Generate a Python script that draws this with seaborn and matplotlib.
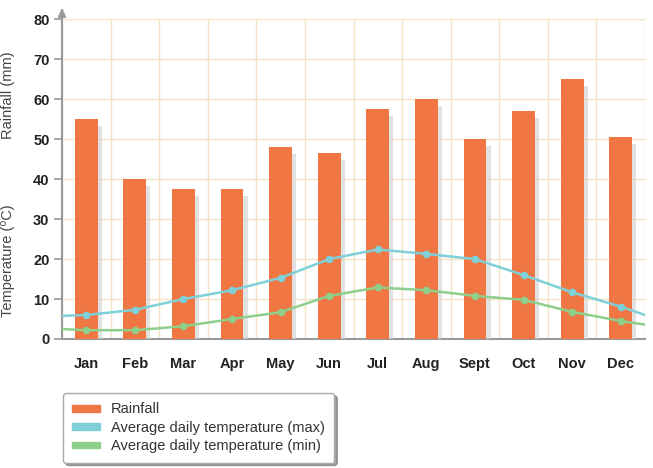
# rainfall and temperature by month, bars + two temperature lines

import numpy as np
import pandas as pd
import matplotlib
matplotlib.use("Agg")
import matplotlib.pyplot as plt
import matplotlib.patheffects as pe
from matplotlib.patches import Patch
import seaborn as sns

# data
months = ["Jan", "Feb", "Mar", "Apr", "May", "Jun", "Jul", "Aug", "Sept", "Oct", "Nov", "Dec"]
rainfall = [55, 40, 37.5, 37.5, 48, 46.5, 57.5, 60, 50, 57, 65, 50.5]
temp_max = [6, 7.3, 10, 12.2, 15.3, 20, 22.4, 21.3, 20, 16, 11.7, 8.1]
temp_min = [2.2, 2.2, 3.2, 5, 6.7, 10.8, 12.9, 12.2, 10.8, 9.8, 6.8, 4.5]
# where the lines meet the left and right edges of the plot
max_edges = [5.8, 6.0]
min_edges = [2.5, 3.6]

bar_color = "#f07643"
max_color = "#7fd0d8"
min_color = "#8ecf8c"
grid_color = "#f4e4c4"
axis_color = "#9a9a9a"

sns.set_style("white")
plt.rcParams["font.family"] = ["Liberation Sans", "DejaVu Sans"]

df = pd.DataFrame({"month": months, "rainfall": rainfall})

fig = plt.figure(figsize=(6.53, 4.68), dpi=100)
ax = fig.add_axes([62 / 653, 1 - 339 / 468, (645 - 62) / 653, (339 - 19.3) / 468])

sns.barplot(data=df, x="month", y="rainfall", order=months, color=bar_color,
            saturation=1, width=0.47, ax=ax, zorder=3)
for bar in ax.patches:
    bar.set_edgecolor("none")
    bar.set_path_effects([pe.SimplePatchShadow(offset=(3, -5), shadow_rgbFace="#d0d0d0", alpha=0.6),
                          pe.Normal()])

pos = np.arange(len(months))
line_x = np.concatenate([[-0.5], pos, [len(months) - 0.5]])
line_max = [max_edges[0]] + temp_max + [max_edges[1]]
line_min = [min_edges[0]] + temp_min + [min_edges[1]]
sns.lineplot(x=line_x, y=line_max, color=max_color, linewidth=1.8, ax=ax, zorder=5)
sns.lineplot(x=line_x, y=line_min, color=min_color, linewidth=1.8, ax=ax, zorder=5)
sns.scatterplot(x=pos, y=temp_max, color=max_color, s=30, linewidth=0, ax=ax, zorder=6)
sns.scatterplot(x=pos, y=temp_min, color=min_color, s=30, linewidth=0, ax=ax, zorder=6)

ax.set_xlim(-0.5, len(months) - 0.5)
ax.set_ylim(0, 80)
ax.set_yticks(range(0, 81, 10))
ax.set_xticks(pos)
ax.set_xticklabels(months)
ax.set_xticks(np.arange(-0.5, len(months), 1), minor=True)
ax.set_xlabel("")
ax.set_ylabel("")

ax.grid(False)
ax.yaxis.grid(True, color=grid_color, linewidth=1, zorder=0)
ax.xaxis.grid(True, which="minor", color=grid_color, linewidth=1, zorder=0)
ax.set_axisbelow(True)

ax.tick_params(axis="x", which="major", length=0, pad=13, labelsize=10.5, labelcolor="#222222")
ax.tick_params(axis="x", which="minor", length=6, width=1.2, color=axis_color, direction="out")
ax.tick_params(axis="y", length=6, width=1.2, color=axis_color, pad=3, labelsize=10.5,
               labelcolor="#222222", left=True)
for lab in ax.get_xticklabels() + ax.get_yticklabels():
    lab.set_fontweight("bold")

for side in ["top", "right", "left"]:
    ax.spines[side].set_visible(False)
ax.spines["bottom"].set_color(axis_color)
ax.spines["bottom"].set_linewidth(1.5)

# left axis with arrow head
ax.annotate("", xy=(0, 1.037), xytext=(0, 0), xycoords="axes fraction",
            arrowprops=dict(arrowstyle="-|>,head_length=0.5,head_width=0.22",
                            color=axis_color, lw=1.5, shrinkA=0, shrinkB=0))

trans = matplotlib.transforms.blended_transform_factory(ax.transAxes, ax.transData)
ax.text(-0.093, 61, "Rainfall (mm)", rotation=90, ha="center", va="center",
        fontsize=10.5, color="#444444", transform=trans)
ax.text(-0.093, 19.7, "Temperature (\u2070C)", rotation=90, ha="center", va="center",
        fontsize=10.5, color="#444444", transform=trans)

handles = [Patch(color=bar_color), Patch(color=max_color), Patch(color=min_color)]
labels = ["Rainfall", "Average daily temperature (max)", "Average daily temperature (min)"]
leg = fig.legend(handles, labels, loc="upper left", bbox_to_anchor=(63 / 653, 1 - 393 / 468),
                 prop={"size": 10.5}, frameon=True, fancybox=True, shadow=True,
                 handlelength=1.9, handleheight=0.35, handletextpad=0.75,
                 labelspacing=0.3, borderpad=0.65, borderaxespad=0)
leg.get_frame().set_edgecolor("#aaaaaa")
leg.get_frame().set_linewidth(1)
for t in leg.get_texts():
    t.set_color("#333333")

fig.savefig("out.png", dpi=100)
